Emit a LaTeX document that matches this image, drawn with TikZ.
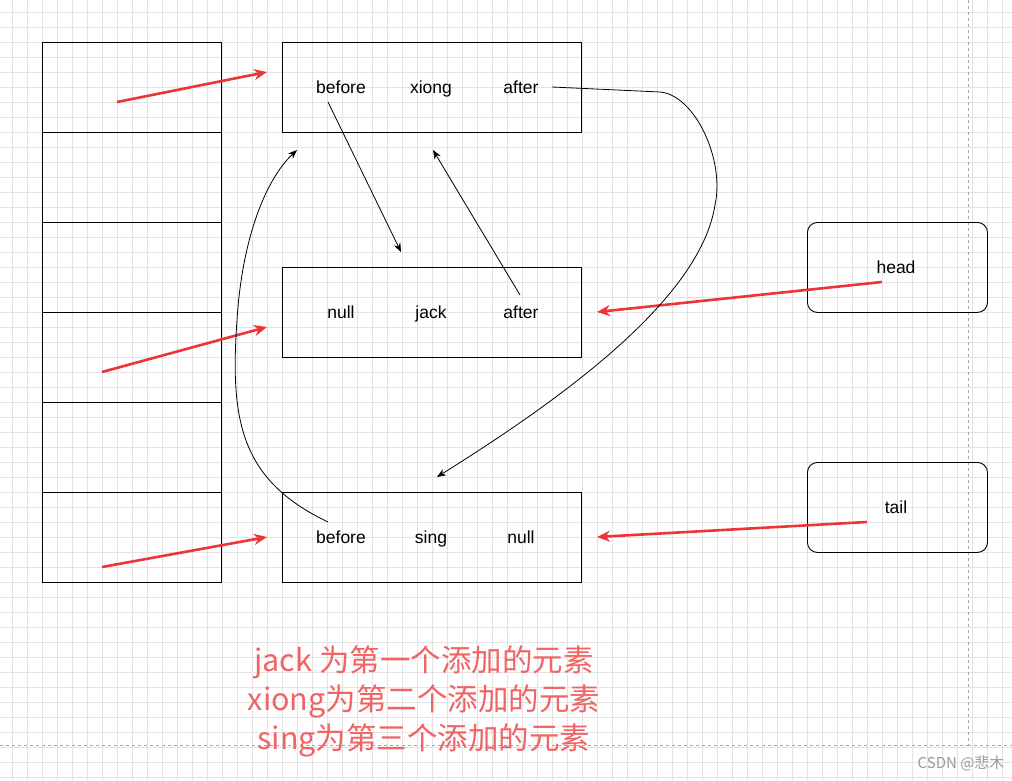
\documentclass[tikz,border=0pt]{standalone}
\usepackage{fontspec}
\setmainfont{Liberation Sans}
\newfontfamily\cjk{Noto Sans CJK SC}
\usetikzlibrary{arrows.meta}
\definecolor{redarr}{HTML}{EE3535}
\definecolor{note}{HTML}{F06464}
\begin{document}
\begin{tikzpicture}[x=1pt,y=-1pt,
  box/.style={draw,line width=0.9pt,minimum width=299pt,minimum height=90pt,anchor=north west,inner sep=0},
  cell/.style={draw,line width=0.9pt,minimum width=179pt,minimum height=90pt,anchor=north west,inner sep=0},
  rbox/.style={draw,line width=0.9pt,rounded corners=10pt,minimum width=180pt,minimum height=90pt,anchor=north west},
  lab/.style={font=\fontsize{17.5}{20}\selectfont,text height=1.45ex,text depth=0.3ex,yshift=-3pt},
  red/.style={draw=redarr,line width=2.6pt,-{Stealth[length=13pt,width=11pt]}},
  blk/.style={draw=black,line width=0.8pt,-{Stealth[length=9pt,width=7pt]}}]
\useasboundingbox (0,0) rectangle (1012,781);
\fill[white] (0,0) rectangle (1012,781);
\foreach \x in {12,27,...,1012} \draw[black!11,line width=0.5pt] (\x,0)--(\x,781);
\foreach \y in {12,27,...,781} \draw[black!11,line width=0.5pt] (0,\y)--(1012,\y);
\draw[black!35,dashed,line width=0.7pt] (968,0)--(968,745)--(0,745);
\draw[black!35,dashed,line width=0.7pt] (968,745)--(1012,745);
\foreach \i in {0,...,5} \node[cell] (c\i) at (42,42+90*\i) {};
\node[box] (b1) at (282,42) {};
\node[box] (b2) at (282,267) {};
\node[box] (b3) at (282,492) {};
\node[rbox] (head) at (807,222) {};
\node[rbox] (tail) at (807,462) {};
\node[lab] (b1a) at (341,87) {before};
\node[lab] (b1b) at (431,87) {xiong};
\node[lab] (b1c) at (521,87) {after};
\node[lab] (b2a) at (341,312) {null};
\node[lab] (b2b) at (431,312) {jack};
\node[lab] (b2c) at (521,312) {after};
\node[lab] (b3a) at (341,537) {before};
\node[lab] (b3b) at (431,537) {sing};
\node[lab] (b3c) at (521,537) {null};
\node[lab] (ht) at (896,267) {head};
\node[lab] (tt) at (896,507) {tail};
\coordinate (p1) at (117,102); \coordinate (q1) at (267,72);
\coordinate (p2) at (102,372); \coordinate (q2) at (267,327);
\coordinate (p3) at (102,567); \coordinate (q3) at (267,537);
\coordinate (p4) at (882,282); \coordinate (q4) at (597,312);
\coordinate (p5) at (867,522); \coordinate (q5) at (597,537);
\draw[red] (p1)--(q1); \draw[red] (p2)--(q2); \draw[red] (p3)--(q3);
\draw[red] (p4)--(q4); \draw[red] (p5)--(q5);
\coordinate (s1) at (328,102); \coordinate (e1) at (401,252);
\coordinate (s2) at (520,295); \coordinate (e2) at (433,150);
\coordinate (s3) at (552,87); \coordinate (e3) at (437,477);
\coordinate (s4) at (328,522); \coordinate (e4) at (297,150);
\draw[blk] (s1)--(e1);
\draw[blk] (s2)--(e2);
\draw[blk] (s3) -- (660,92) .. controls (695,95) and (725,160) .. (715,205) .. controls (700,300) and (560,400) .. (e3);
\draw[blk] (s4) .. controls (240,480) and (230,420) .. (237,320) .. controls (242,240) and (265,180) .. (e4);
\node[text=note,font=\cjk\fontsize{30.5}{39}\selectfont,align=center] (note) at (424,701) {jack 为第一个添加的元素\\xiong为第二个添加的元素\\sing为第三个添加的元素};
\node[text=black!40,font=\cjk\fontsize{15}{17}\selectfont,anchor=east] (wm) at (1008,763) {CSDN @悲木};
\end{tikzpicture}
\end{document}
